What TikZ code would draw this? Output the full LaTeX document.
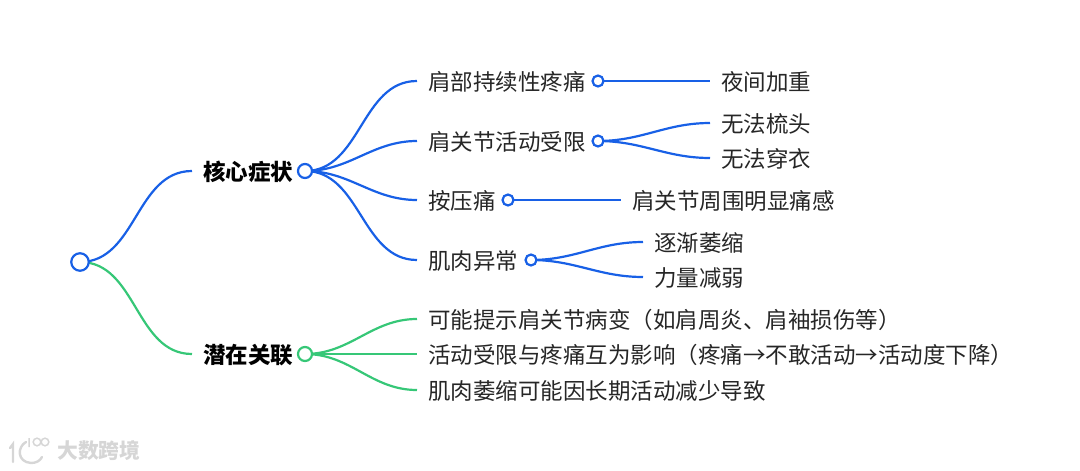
\documentclass[tikz,border=0pt]{standalone}
\usepackage{fontspec}
\setmainfont{Noto Sans CJK SC}
\usetikzlibrary{backgrounds}
\definecolor{branchblue}{HTML}{1860E6}
\definecolor{branchgreen}{HTML}{36C777}
\definecolor{markgray}{HTML}{D6D6D6}
\tikzset{
  label/.style={anchor=west,inner xsep=11pt,inner ysep=0pt,text height=20.5pt,text depth=1.5pt,
    font=\fontsize{22.5}{26}\selectfont,text=black!85},
  toplabel/.style={label,font=\fontsize{22.5}{26}\selectfont\bfseries,text=black},
  dot/.style={circle,draw,fill=white,line width=2.2pt,inner sep=0pt,minimum size=11pt},
  middot/.style={dot,minimum size=14pt},
  rootdot/.style={dot,minimum size=17.5pt},
  branch/.style={line width=2.2pt}
}
\begin{document}
\begin{tikzpicture}[x=1pt,y=-1pt]
    \useasboundingbox (0,0) rectangle (1080,471);

    % Root and first level
    \node[rootdot,draw=branchblue] (root) at (80,262) {};
    \node[toplabel] (core) at (192,171) {核心症状};
    \node[middot,draw=branchblue] (coredot) at (305,171) {};
    \node[toplabel] (link) at (192,354) {潜在关联};
    \node[middot,draw=branchgreen] (linkdot) at (305,354) {};

    % Symptoms
    \node[label] (shoulder) at (417,81) {肩部持续性疼痛};
    \node[dot,draw=branchblue] (shoulderdot) at (598,81) {};
    \node[label] (motion) at (417,141) {肩关节活动受限};
    \node[dot,draw=branchblue] (motiondot) at (598,141) {};
    \node[label] (press) at (417,200) {按压痛};
    \node[dot,draw=branchblue] (pressdot) at (508,200) {};
    \node[label] (muscle) at (417,260) {肌肉异常};
    \node[dot,draw=branchblue] (muscledot) at (531,260) {};

    % Leaves
    \node[label] (night) at (710,81) {夜间加重};
    \node[label] (comb) at (710,123) {无法梳头};
    \node[label] (dress) at (710,158) {无法穿衣};
    \node[label] (around) at (621,200) {肩关节周围明显痛感};
    \node[label] (shrink) at (643,242) {逐渐萎缩};
    \node[label] (weak) at (643,277) {力量减弱};

    % Possible links
    \node[label] (lesion) at (417,319) {可能提示肩关节病变（如肩周炎、肩袖损伤等）};
    \node[label] (mutual) at (417,354) {活动受限与疼痛互为影响（疼痛→不敢活动→活动度下降）};
    \node[label] (disuse) at (417,390) {肌肉萎缩可能因长期活动减少导致};

    % Connectors go under the dots
    \begin{pgfonlayer}{background}
    \draw[branch,branchblue] (root.center) to[out=0,in=180] (core.west);
    \draw[branch,branchgreen] (root.center) to[out=0,in=180] (link.west);
    \foreach \from/\to in {coredot/shoulder,coredot/motion,coredot/press,coredot/muscle,
        shoulderdot/night,motiondot/comb,motiondot/dress,pressdot/around,muscledot/shrink,muscledot/weak}
        \draw[branch,branchblue] (\from.center) to[out=0,in=180] (\to.west);
    \foreach \to in {lesion,mutual,disuse}
        \draw[branch,branchgreen] (linkdot.center) to[out=0,in=180] (\to.west);
    \end{pgfonlayer}

    % Watermark
    \node[anchor=west,inner sep=0pt,text=markgray,font=\fontsize{20.8}{24}\selectfont\bfseries] (mark) at (57,451) {大数跨境};
    \draw[markgray,line width=2.4pt,line cap=round] (10,448) -- (13,444) -- (13,462);
    \draw[markgray,line width=2.4pt,line cap=round] (26,442) .. controls (17,447) and (17,462) .. (31,463) .. controls (36,463) and (40,461) .. (42,457);
    \draw[markgray,line width=1.5pt] (29,438) -- (29,447) (37,442) circle (3.8) (45,442) circle (3.8);
\end{tikzpicture}
\end{document}
